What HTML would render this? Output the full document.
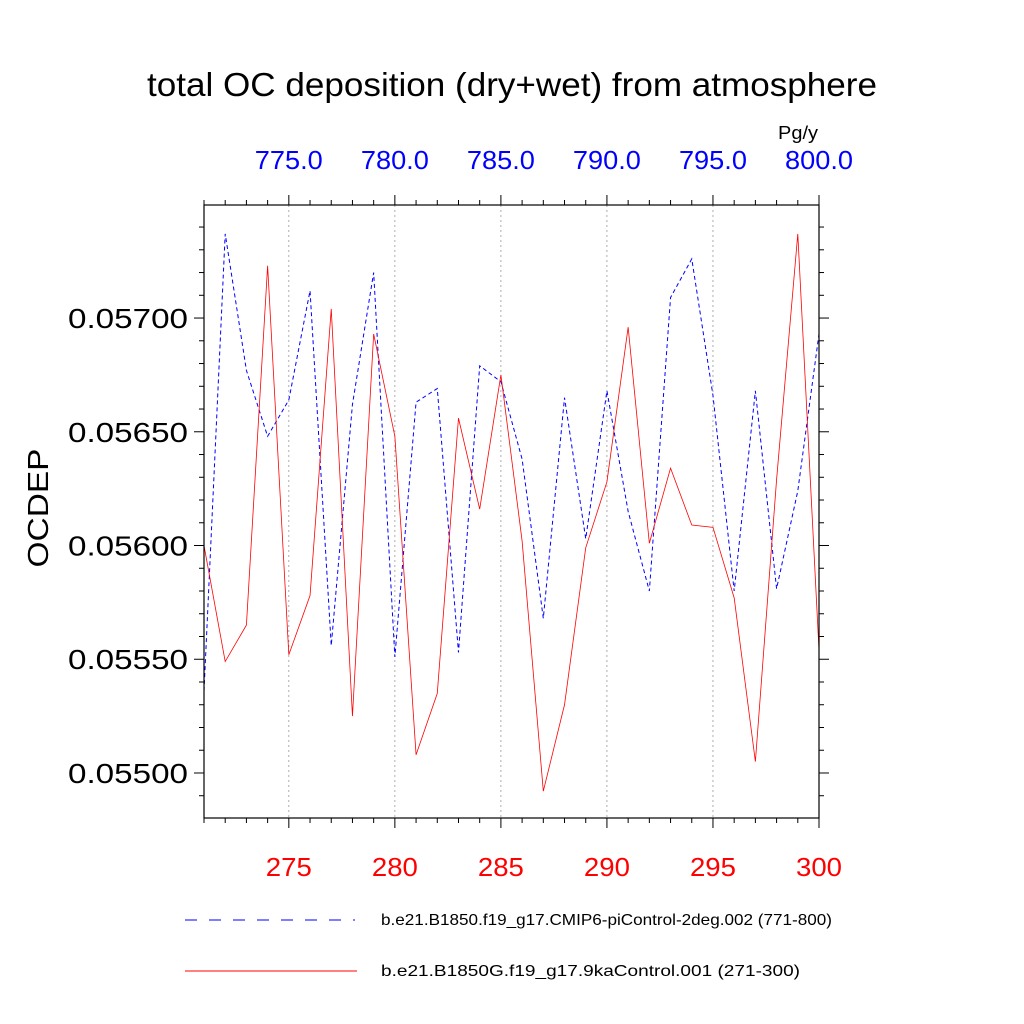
<!DOCTYPE html>
<html><head><meta charset="utf-8"><style>
html,body{margin:0;padding:0;background:#fff;}
svg{display:block;font-family:"Liberation Sans",sans-serif;}
</style></head><body>
<svg id="chart" width="1024" height="1024" viewBox="0 0 1024 1024">
<text x="147" y="96" font-size="33" textLength="730" lengthAdjust="spacingAndGlyphs">total OC deposition (dry+wet) from atmosphere</text>
<text x="778" y="139" font-size="18" textLength="40" lengthAdjust="spacingAndGlyphs">Pg/y</text>
<text transform="translate(48,508) rotate(-90)" text-anchor="middle" font-size="29" textLength="119" lengthAdjust="spacingAndGlyphs">OCDEP</text>
<g id="grid"></g><g id="ticks"></g><g id="series"></g>
<rect x="204" y="205" width="615" height="613" fill="none" stroke="#000" stroke-width="1.2"/>
<g>
<line x1="185" y1="920" x2="355" y2="920" stroke="#00f" stroke-width="1" stroke-dasharray="12,12"/>
<text x="381" y="925" font-size="16" textLength="451" lengthAdjust="spacingAndGlyphs">b.e21.B1850.f19_g17.CMIP6-piControl-2deg.002 (771-800)</text>
<line x1="185" y1="971" x2="357" y2="971" stroke="#f00" stroke-width="1"/>
<text x="381" y="976" font-size="16" textLength="419" lengthAdjust="spacingAndGlyphs">b.e21.B1850G.f19_g17.9kaControl.001 (271-300)</text>
</g>
</svg>
<script>
const yearsRed = [271,272,273,274,275,276,277,278,279,280,281,282,283,284,285,286,287,288,289,290,291,292,293,294,295,296,297,298,299,300];
const blueValues = [0.05536,0.05737,0.05677,0.05648,0.05664,0.05712,0.05556,0.05662,0.05720,0.05551,0.05663,0.05669,0.05553,0.05679,0.05672,0.05638,0.05568,0.05665,0.05603,0.05668,0.05615,0.05580,0.05709,0.05726,0.05666,0.05580,0.05668,0.05581,0.05624,0.05693];
const redValues = [0.05600,0.05549,0.05565,0.05723,0.05552,0.05578,0.05704,0.05525,0.05693,0.05648,0.05508,0.05535,0.05656,0.05616,0.05675,0.05602,0.05492,0.05530,0.05599,0.05628,0.05696,0.05601,0.05634,0.05609,0.05608,0.05577,0.05505,0.05629,0.05737,0.05554];
const bottomTicks = [275,280,285,290,295,300];
const topTickLabels = ["775.0","780.0","785.0","790.0","795.0","800.0"];
const yTicks = [0.0550,0.0555,0.0560,0.0565,0.0570];
const yTickLabels = ["0.05500","0.05550","0.05600","0.05650","0.05700"];
const NS="http://www.w3.org/2000/svg";
const X0=204,X1=819,Y0=205,Y1=818;
const xMin=271,xMax=300;
const yMin=0.0550-45/113.7*0.0005, yMax=0.0570+113/113.7*0.0005;
const sx=v=>X0+(v-xMin)/(xMax-xMin)*(X1-X0);
const sy=v=>Y1-(v-yMin)/(yMax-yMin)*(Y1-Y0);
function mk(tag,attrs,parent){const e=document.createElementNS(NS,tag);for(const k in attrs)e.setAttribute(k,attrs[k]);document.getElementById(parent).appendChild(e);return e;}
bottomTicks.forEach(t=>{if(t<xMax){const l=mk('line',{x1:sx(t),x2:sx(t),y1:Y0,y2:Y1,stroke:'#999','stroke-width':0.8,'stroke-dasharray':'2,3'},'grid');

}});
for(let v=xMin;v<=xMax;v++){const maj=bottomTicks.includes(v);const len=maj?10:5;
const a=mk('line',{x1:sx(v),x2:sx(v),y1:Y1,y2:Y1+len,stroke:'#000'},'ticks');


const b=mk('line',{x1:sx(v),x2:sx(v),y1:Y0,y2:Y0-len,stroke:'#000'},'ticks');

}
bottomTicks.forEach((t,i)=>{const e=mk('text',{x:sx(t),y:876,'text-anchor':'middle','font-size':26,fill:'#f00',textLength:46,lengthAdjust:'spacingAndGlyphs'},'ticks');e.textContent=t;


const f=mk('text',{x:sx(t),y:169,'text-anchor':'middle','font-size':26,fill:'#00f',textLength:68,lengthAdjust:'spacingAndGlyphs'},'ticks');f.textContent=topTickLabels[i];

});
for(let k=0;;k++){const v=0.0549+k*0.0001;if(v>yMax)break;if(v<yMin)continue;const maj=Math.abs((v*10000)%5)<0.01||Math.abs((v*10000)%5-5)<0.01;const len=maj?10:5;
const a=mk('line',{x1:X0,x2:X0-len,y1:sy(v),y2:sy(v),stroke:'#000'},'ticks');


const b=mk('line',{x1:X1,x2:X1+len,y1:sy(v),y2:sy(v),stroke:'#000'},'ticks');

}
yTicks.forEach((v,i)=>{const e=mk('text',{x:68,y:sy(v)+10,'font-size':28,textLength:120,lengthAdjust:'spacingAndGlyphs'},'ticks');e.textContent=yTickLabels[i];

});
const bp=mk('polyline',{points:yearsRed.map((x,i)=>sx(x)+','+sy(blueValues[i])).join(' '),fill:'none',stroke:'#00f','stroke-width':1,'stroke-dasharray':'4,3'},'series');


const rp=mk('polyline',{points:yearsRed.map((x,i)=>sx(x)+','+sy(redValues[i])).join(' '),fill:'none',stroke:'#f00','stroke-width':0.8},'series');


</script>
</body></html>
